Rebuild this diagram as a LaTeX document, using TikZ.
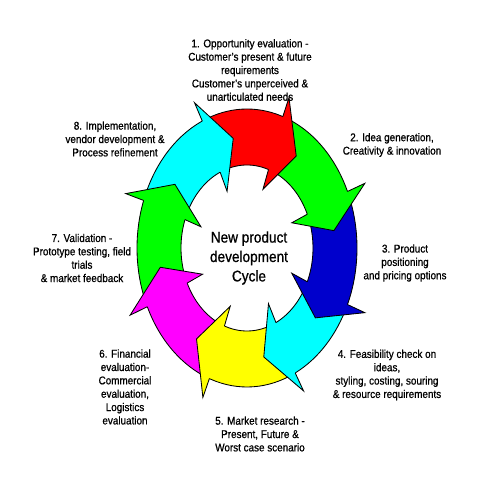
\documentclass[tikz,border=0pt]{standalone}
\usepackage{fontspec}
\setmainfont{Liberation Sans}[FakeStretch=0.88, FakeBold=0.8]
\usepackage{tikz}
\usetikzlibrary{positioning}
\definecolor{segred}{RGB}{255,0,0}
\definecolor{seggreen}{RGB}{0,255,0}
\definecolor{segblue}{RGB}{0,0,204}
\definecolor{segcyan}{RGB}{0,255,255}
\definecolor{segyellow}{RGB}{255,255,0}
\definecolor{segmagenta}{RGB}{255,0,255}

\begin{document}
\begin{tikzpicture}[
    x=0.025cm, y=0.025cm,
    stagetext/.style={align=center, inner sep=0pt, font=\fontsize{8}{9.5}\selectfont},
    hubtext/.style={align=center, inner sep=0pt, font=\fontsize{11}{13.8}\selectfont},
    seg/.style={draw=black, line width=0.6pt, line join=miter}
]
\fill[white] (0,0) rectangle (480,480);
\useasboundingbox (0,0) rectangle (480,480);

% ring centre and radii
\def\cx{247} \def\cy{232}

% arrow bodies (previous head base / own head base / colour)
\foreach \p/\b/\col in {114/71/segred, 71/24/seggreen, 24/-24/segblue, -24/-64/segcyan,
    -64/-110/segyellow, -110/-155/segmagenta, -155/-200/seggreen, -200/-246/segcyan} {
  \draw[seg, fill=\col] ({\cx+110*cos(\p-3)},{\cy+139*sin(\p-3)})
      arc[start angle=\p-3, end angle=\b-2, x radius=110, y radius=139]
      -- ({\cx+66*cos(\b-2)},{\cy+83*sin(\b-2)})
      arc[start angle=\b-2, end angle=\p-3, x radius=66, y radius=83] -- cycle;
}

% arrow heads on top
\foreach \b/\col in {71/segred, 24/seggreen, -24/segblue, -64/segcyan,
    -110/segyellow, -155/segmagenta, -200/seggreen, -246/segcyan} {
  \fill[\col] ({\cx+110*cos(\b)},{\cy+139*sin(\b)}) -- ({\cx+129*cos(\b)},{\cy+159*sin(\b)})
      -- ({\cx+88*cos(\b-15)},{\cy+111*sin(\b-15)}) -- ({\cx+49*cos(\b)},{\cy+62*sin(\b)})
      -- ({\cx+66*cos(\b)},{\cy+83*sin(\b)}) -- cycle;
  \draw[seg] ({\cx+110*cos(\b)},{\cy+139*sin(\b)}) -- ({\cx+129*cos(\b)},{\cy+159*sin(\b)})
      -- ({\cx+88*cos(\b-15)},{\cy+111*sin(\b-15)}) -- ({\cx+49*cos(\b)},{\cy+62*sin(\b)})
      -- ({\cx+66*cos(\b)},{\cy+83*sin(\b)});
}

% centre
\node[hubtext] (hub) at (249,222) {New product\\development\\Cycle};

% stages
\node[stagetext] (opportunity) at (250,410) {1. Opportunity evaluation -\\Customer's present \& future\\requirements\\Customer's unperceived \&\\unarticulated needs};
\node[stagetext] (idea) at (392,335) {2. Idea generation,\\Creativity \& innovation};
\node[stagetext] (positioning) at (405,217) {3. Product\\positioning\\and pricing options};
\node[stagetext] (feasibility) at (387,105) {4. Feasibility check on\\ideas,\\styling, costing, souring\\\& resource requirements};
\node[stagetext] (market) at (260,46) {5. Market research -\\Present, Future \&\\Worst case scenario};
\node[stagetext] (financial) at (125,93) {6. Financial\\evaluation-\\Commercial\\evaluation,\\Logistics\\evaluation};
\node[stagetext] (validation) at (82,222) {7. Validation -\\Prototype testing, field\\trials\\\& market feedback};
\node[stagetext] (implementation) at (115,341) {8. Implementation,\\vendor development \&\\Process refinement};

\end{tikzpicture}
\end{document}
